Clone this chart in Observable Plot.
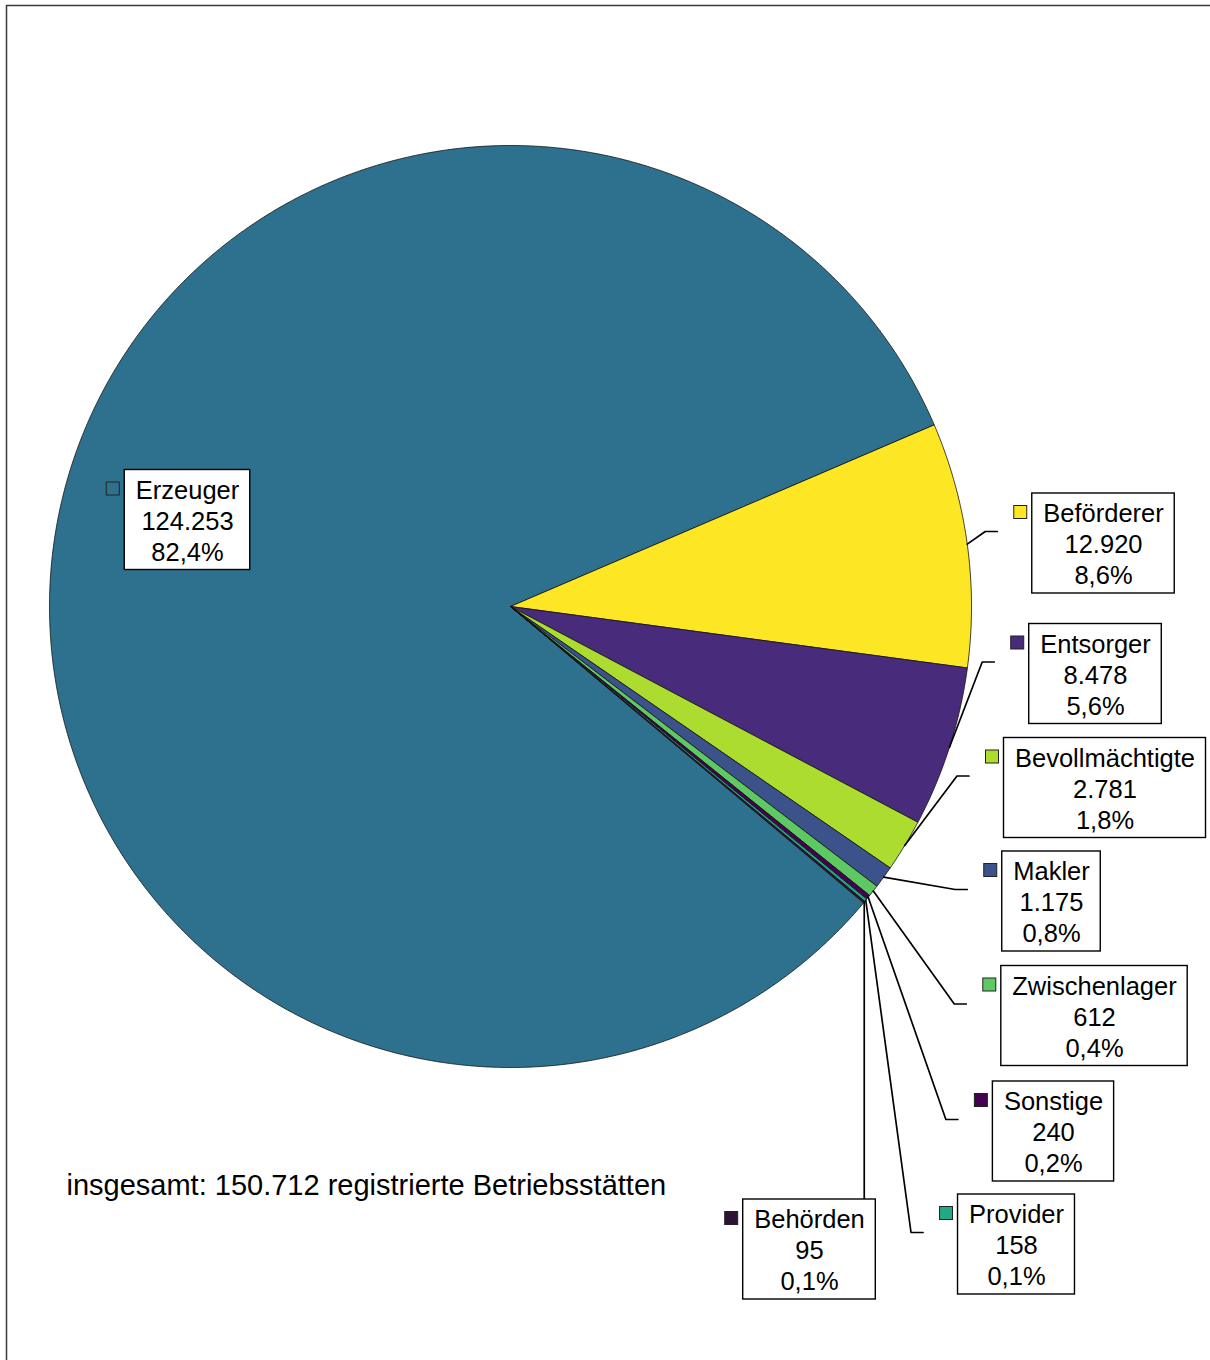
<!DOCTYPE html>
<html>
<head>
<meta charset="utf-8">
<script src="https://cdn.jsdelivr.net/npm/d3@7"></script>
<script src="https://cdn.jsdelivr.net/npm/@observablehq/plot@0.6"></script>
<style>
  html, body { margin: 0; padding: 0; background: white; overflow: hidden; }
  #chart svg { display: block; overflow: visible; }
</style>
</head>
<body>
<div id="chart"></div>
<script>
// ---- data ----
const categories = ["Erzeuger", "Beförderer", "Entsorger", "Bevollmächtigte", "Makler", "Zwischenlager", "Sonstige", "Provider", "Behörden"];
const counts = [124253, 12920, 8478, 2781, 1175, 612, 240, 158, 95];
const totalText = ["insgesamt:", "registrierte Betriebsstätten"];

// ---- styles ----
const palette = ["#2e718e", "#fde725", "#482b7a", "#addc30", "#3b528b", "#5ec962", "#440154", "#22a884", "#2d1236"];
const FONT = "'Liberation Sans', Arial, sans-serif";
const FS = 25.5, LH = 31;

// ---- layout (pie geometry and label placement, in pixels) ----
const pie = {cx: 510, cy: 606, r: 461, startDeg: 130};
// label box centres; style: "inside" (no leader), "side" (elbow leader), "below" (vertical leader)
const labelCx = [187, 1103, 1095, 1104.5, 1051, 1094, 1053, 1016, 809];
const labelCy = [519.5, 543, 673.5, 787.5, 901, 1015.5, 1131, 1244, 1249];
const leaderStyle = ["inside", "side", "side", "side", "side", "side", "side", "side", "below"];
const footPos = {x: 66, y: 1185, size: 29};

// ---- formatting ----
const de = d3.formatLocale({decimal: ",", thousands: ".", grouping: [3], currency: ["", " €"]});
const fmtInt = de.format(",d");
const fmtPct = de.format(".1%");
const total = d3.sum(counts);

// ---- slices ----
const rad = Math.PI / 180;
const arcs = d3.pie().sort(null).startAngle(pie.startDeg * rad).endAngle((pie.startDeg + 360) * rad)(counts);
const px = a => pie.cx + pie.r * Math.sin(a);
const py = a => pie.cy - pie.r * Math.cos(a);

const slicePts = [];
arcs.forEach((a, i) => {
  const name = categories[i];
  slicePts.push({name, x: pie.cx, y: pie.cy});
  const n = Math.max(2, Math.ceil((a.endAngle - a.startAngle) / (0.25 * rad)));
  for (let k = 0; k <= n; k++) {
    const t = a.startAngle + (a.endAngle - a.startAngle) * k / n;
    slicePts.push({name, x: px(t), y: py(t)});
  }
  slicePts.push({name, x: pie.cx, y: pie.cy});
});

// ---- labels ----
const ctx = document.createElement("canvas").getContext("2d");
ctx.font = `${FS}px 'Liberation Sans'`;
const labels = categories.map((name, i) => {
  const lines = [name, fmtInt(counts[i]), fmtPct(counts[i] / total)];
  const w = d3.max(lines, s => ctx.measureText(s).width) + 22;
  let x1 = labelCx[i] - w / 2, x2 = labelCx[i] + w / 2;
  if (x2 > 1207) { x1 -= (x2 - 1207); x2 = 1207; }
  const cy = labelCy[i];
  return {name, text: lines.join("\n"), cx: (x1 + x2) / 2, cy, x1, x2, y1: cy - 50, y2: cy + 50, style: leaderStyle[i]};
});

// keys
const keys = labels.map(l => ({name: l.name, x1: l.x1 - 18, x2: l.x1 - 5, y1: l.cy - LH - 6.5, y2: l.cy - LH + 6.5}));

// leader lines from mid-arc point of each slice
const leaders = [];
labels.forEach((l, i) => {
  if (l.style === "inside") return;
  const mid = (arcs[i].startAngle + arcs[i].endAngle) / 2;
  const sx = px(mid), sy = py(mid);
  if (l.style === "side") {
    const ey = l.cy - 12, ex = l.x1 - 35;
    leaders.push({name: l.name, x: sx, y: sy}, {name: l.name, x: ex - 12, y: ey}, {name: l.name, x: ex, y: ey});
  } else {
    leaders.push({name: l.name, x: sx, y: sy}, {name: l.name, x: sx, y: l.y1});
  }
});

const foot = [{text: `${totalText[0]} ${fmtInt(total)} ${totalText[1]}`}];

const chart = Plot.plot({
  width: 1210,
  height: 1360,
  margin: 0,
  x: {type: "linear", domain: [0, 1210], range: [0, 1210], axis: null},
  y: {type: "linear", domain: [0, 1360], range: [0, 1360], axis: null},
  color: {domain: categories, range: palette},
  style: {fontFamily: FONT, background: "white", overflow: "visible"},
  marks: [
    Plot.frame({stroke: "#3a3a3a", strokeWidth: 1.5, insetLeft: 6, insetTop: 5, insetRight: -20, insetBottom: -20}),
    Plot.line(slicePts, {x: "x", y: "y", z: "name", fill: "name", stroke: "#111", strokeWidth: 0.8, strokeLinejoin: "round"}),
    Plot.line(leaders, {x: "x", y: "y", z: "name", stroke: "#000", strokeWidth: 1.7}),
    Plot.rect(labels, {x1: "x1", x2: "x2", y1: "y1", y2: "y2", fill: "white", stroke: "#000", strokeWidth: 1.4}),
    Plot.rect(keys, {x1: "x1", x2: "x2", y1: "y1", y2: "y2", fill: "name", stroke: "#222", strokeWidth: 1}),
    Plot.text(labels, {x: "cx", y: "cy", text: "text", fontSize: FS, lineHeight: LH / FS, fill: "#000", fontFamily: FONT}),
    Plot.text(foot, {x: () => footPos.x, y: () => footPos.y, text: "text", textAnchor: "start", fontSize: footPos.size, fill: "#000", fontFamily: FONT})
  ]
});
document.getElementById("chart").appendChild(chart);
</script>
</body>
</html>
